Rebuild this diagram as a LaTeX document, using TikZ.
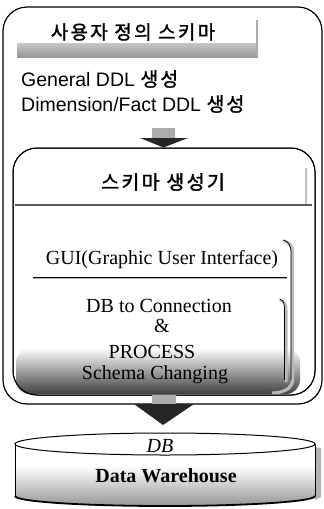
\documentclass[tikz,border=0pt]{standalone}
\usepackage{fontspec}
\setmainfont{Liberation Serif}
\newfontfamily\arialf{Liberation Sans}
\newfontfamily\krf{Noto Sans CJK KR}[FakeBold=1]
\newfontfamily\krsp{Noto Sans CJK KR}[LetterSpace=12,FakeBold=1.6]
\begin{document}
\begin{tikzpicture}[x=1pt,y=-1pt,
  frame/.style={draw=black, line width=1.2pt, rounded corners=24pt},
  shadowline/.style={line width=2.6pt, draw=gray!55},
  thinline/.style={line width=0.7pt, draw=black},
  krtitle/.style={font=\krsp\fontsize{19}{22}\selectfont, inner sep=0pt},
  ddl/.style={font=\arialf\fontsize{19.5}{22}\selectfont, inner sep=0pt, anchor=west},
  serif/.style={font=\fontsize{20}{23}\selectfont, inner sep=0pt, text height=13.5pt, text depth=0.5pt},
  shaft/.style={left color=gray!65, middle color=gray!12, right color=gray!65},
  head/.style={left color=black!85, middle color=gray!55, right color=black!85}]
\useasboundingbox (0,0) rectangle (324,509);

% ---------- outer frame ----------
\draw[frame] (3,7) rectangle (322,404);

% ---------- title header ----------
\shade[top color=gray!45, bottom color=gray!80] (17,43) rectangle (258,57);
\draw[shadowline, draw=gray!65] (257,20) -- (257,57);
\node[krtitle] (title) at (133,32) {사용자 정의 스키마};

% ---------- DDL lines ----------
\node[ddl] (ddl1) at (21,79) {General DDL {\krf 생\hspace{2pt}성}};
\node[ddl] (ddl2) at (21,104) {Dimension/Fact DDL {\krf 생\hspace{2pt}성}};

% ---------- inner frame ----------
\draw[frame, line width=1pt] (13,148) rectangle (315,395);

% arrow 1 (DDL -> generator)
\coordinate (a1) at (163.5,128);
\coordinate (gen) at (163.5,148);
\begin{scope}[shift={(a1)}]
  \shade[shaft] (-11.5,0) rectangle (11.5,10.5);
  \shade[head] (-23.5,10) -- (24.5,10) -- (0,19.5) -- cycle;
\end{scope}

% generator header
\node[krtitle, font=\krsp\fontsize{19.5}{22}\selectfont] (gentitle) at (163,182) {스키마 생성기};
\draw[line width=2.6pt, draw=black!65] (15,205) -- (312,205);
\draw[line width=2pt, draw=gray!50] (306,168) -- (306,204);

% GUI panel
\node[serif] (gui) at (162,258) {GUI(Graphic User Interface)};
\draw[line width=1.8pt, draw=gray!60] (33,278.5) -- (287,278.5);
\draw[thinline] (33,277.5) -- (287,277.5);

% Schema changing shading
\shade[top color=white, middle color=gray!55, bottom color=black!75, rounded corners=14pt]
  (16,348) -- (16,394) -- (300,394) -- (300,348) -- cycle;

% GUI panel right edge
\draw[shadowline, line width=3.2pt] (284,241) to[out=-10,in=90] (292.5,252) -- (292.5,380) to[out=-90,in=0] (272,393);
\draw[thinline] (283,240) to[out=-10,in=90] (291,252) -- (291,380);
% DB panel right edge
\draw[shadowline, line width=3pt] (280,300) to[out=-10,in=90] (286,310) -- (286,382);
\draw[thinline] (279.5,299) to[out=-10,in=90] (284.5,310) -- (284.5,380);

% redraw inner frame edges over shading
\draw[frame, line width=1pt] (13,148) rectangle (315,395);

\node[serif] (conn) at (159,306) {DB to Connection};
\node[serif] (amp) at (162,326) {\&};
\node[serif] (proc) at (152,352) {PROCESS};
\node[serif] (schema) at (155,373) {Schema Changing};

% arrow 2 (generator -> DB)
\coordinate (a2) at (164,395);
\begin{scope}[shift={(a2)}]
  \shade[shaft] (-12,0) rectangle (12,9.5);
  \shade[head] (-30,9) -- (30,9) -- (-1,30) -- cycle;
\end{scope}

% ---------- DB cylinder ----------
\fill[gray!60] (315,447) -- (321,448) -- (321,497) -- (315,500) -- cycle;
\begin{scope}
  \clip (15,444) -- (15,496) arc[start angle=180, end angle=0, x radius=150, y radius=10] -- (315,444) -- cycle;
  \fill[white] (10,430) rectangle (320,510);
  \shade[top color=white, bottom color=gray!85] (10,466) rectangle (320,507);
\end{scope}
\draw[line width=1pt] (15,444) -- (15,496);
\draw[line width=1pt] (315,444) -- (315,496);
\draw[line width=1.8pt] (15,496) arc[start angle=180, end angle=0, x radius=150, y radius=10];
\draw[line width=1pt, fill=white] (165,444) ellipse[x radius=150, y radius=11];
\node[serif, font=\itshape\fontsize{20}{23}\selectfont] (db) at (160,446) {DB};
\node[serif, font=\bfseries\fontsize{20}{23}\selectfont] (dw) at (166,476) {Data Warehouse};
\end{tikzpicture}
\end{document}
